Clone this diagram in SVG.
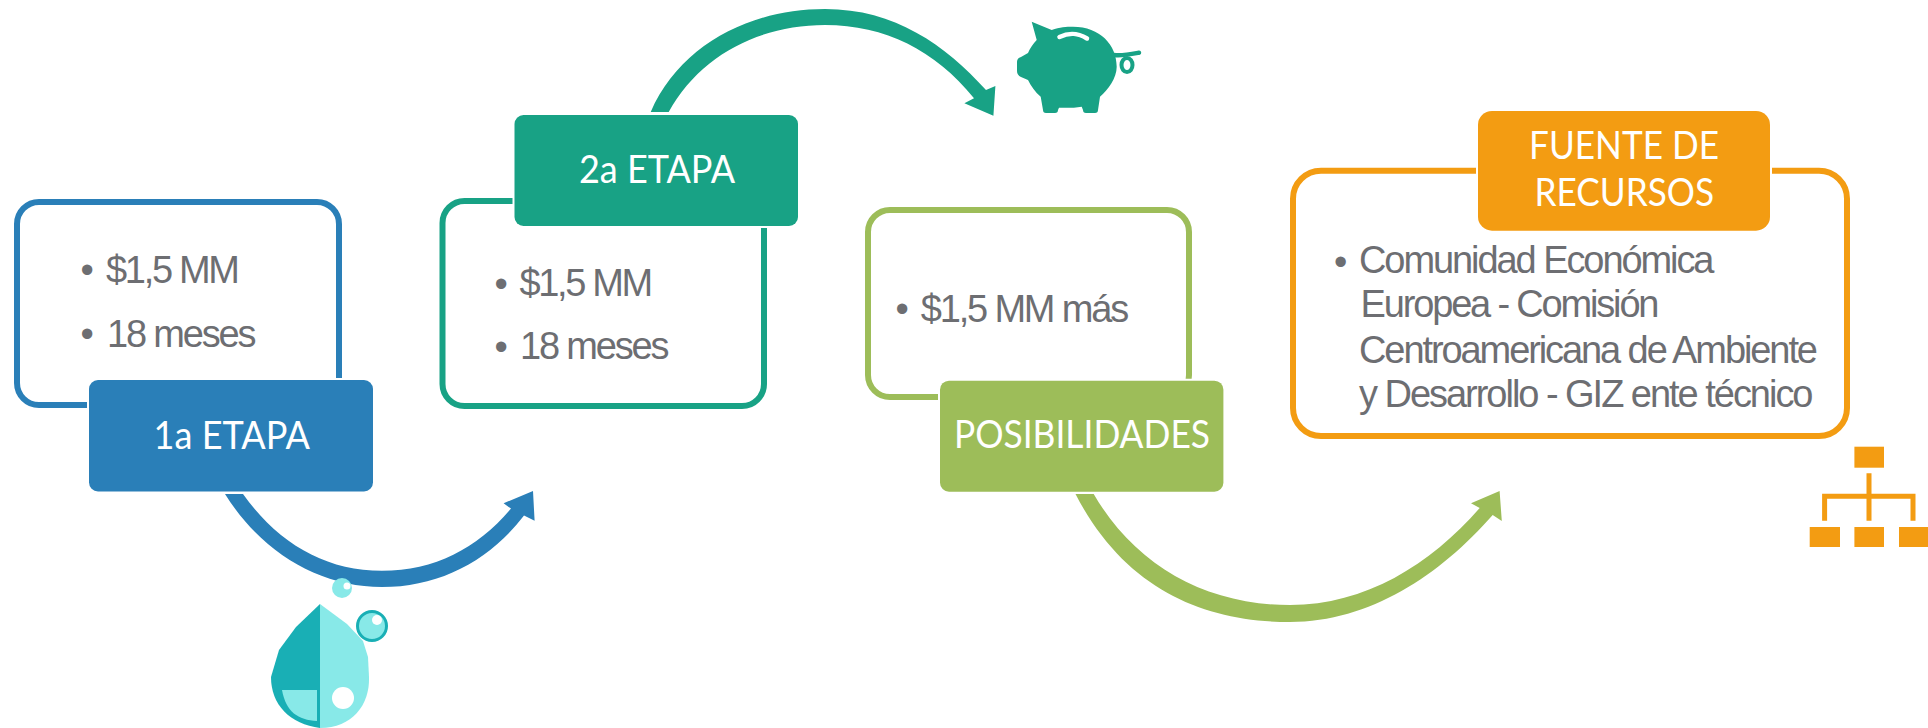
<svg xmlns="http://www.w3.org/2000/svg" width="1928" height="728" viewBox="0 0 1928 728">
<style>
.frame{fill:#fff;stroke-width:6}
.tag{stroke:#fff;stroke-width:4;paint-order:stroke}
.lab{font-family:Lato,"Liberation Sans",sans-serif;font-size:38px;fill:#fff}
.txt{font-family:"Liberation Sans",Arial,sans-serif;font-size:38px;fill:#6d6e72}
.blue{fill:#2a7fb8}.green{fill:#18a285}.lime{fill:#9dbd59}.orange{fill:#f39c12}
.sblue{stroke:#2a7fb8}.sgreen{stroke:#18a285}.slime{stroke:#9dbd59}.sorange{stroke:#f39c12}
.dark{fill:#19afb5}.light{fill:#88e9e8}
</style>
<rect width="1928" height="728" fill="#fff"/>
<g id="connectors">
<path class="blue" d="M225,494C262,553 320,587 382,587C440,587 490,560 524,515.500L534.600,520.800L533,491L503.600,503.300L511,508.600C478,548 435,570.800 382,570.800C325,570.800 278,543 243,494Z"/>
<path class="green" d="M650.700,112C680,45 750,9 825,9C895,9 945,45 986,90L995.400,86L993.400,115.700L964.400,103.300L974,98.300C935,50 885,25 825,25C760,25 700,55 668.700,112Z"/>
<path class="lime" d="M1075.500,494C1125,590 1205,622 1290,622C1370,622 1440,575 1492.700,515L1501.800,521L1499.600,491L1471,503.300L1479.700,508C1430,565 1365,605 1290,605C1205,605 1135,565 1093.700,494Z"/>
</g>
<g id="etapa1">
<rect class="frame sblue" x="17" y="202" width="322" height="203" rx="22"/>
<rect class="tag blue" x="89" y="380" width="284" height="111.500" rx="9"/>
<text class="lab" x="153.600" y="448.500" textLength="156.400" lengthAdjust="spacingAndGlyphs">1a ETAPA</text>
<text class="txt" x="80.400" y="283">•</text>
<text class="txt" x="106" y="283" textLength="134" lengthAdjust="spacing">$1,5 MM</text>
<text class="txt" x="80.400" y="347">•</text>
<text class="txt" x="107" y="347" textLength="149.500" lengthAdjust="spacing">18 meses</text>
</g>
<g id="etapa2">
<rect class="frame sgreen" x="442.500" y="201" width="321.500" height="205" rx="22"/>
<rect class="tag green" x="514.500" y="115" width="283.500" height="111" rx="9"/>
<text class="lab" x="579" y="182.700" textLength="156" lengthAdjust="spacingAndGlyphs">2a ETAPA</text>
<text class="txt" x="494.400" y="297">•</text>
<text class="txt" x="519.400" y="295.700" textLength="133.800" lengthAdjust="spacing">$1,5 MM</text>
<text class="txt" x="494.400" y="360">•</text>
<text class="txt" x="520" y="359" textLength="149.500" lengthAdjust="spacing">18 meses</text>
</g>
<g id="posibilidades">
<rect class="frame slime" x="868" y="210" width="321" height="187" rx="22"/>
<rect class="tag lime" x="940" y="380.700" width="283.400" height="111" rx="9"/>
<text class="lab" x="954" y="447.700" textLength="256" lengthAdjust="spacingAndGlyphs">POSIBILIDADES</text>
<text class="txt" x="895.400" y="322">•</text>
<text class="txt" x="920.700" y="321.700" textLength="208.500" lengthAdjust="spacing">$1,5 MM más</text>
</g>
<g id="fuente">
<rect class="frame sorange" x="1293" y="170.700" width="554" height="265.300" rx="28"/>
<rect class="tag orange" x="1478" y="111" width="292" height="119.700" rx="14"/>
<text class="lab" x="1529" y="158.700" textLength="190" lengthAdjust="spacingAndGlyphs">FUENTE DE</text>
<text class="lab" x="1534.500" y="206" textLength="179.500" lengthAdjust="spacingAndGlyphs">RECURSOS</text>
<text class="txt" x="1334" y="275">•</text>
<text class="txt" x="1359" y="273.300" textLength="355.500" lengthAdjust="spacing">Comunidad Económica</text>
<text class="txt" x="1360.600" y="317.300" textLength="298.900" lengthAdjust="spacing">Europea - Comisión</text>
<text class="txt" x="1359" y="362.700" textLength="459" lengthAdjust="spacing">Centroamericana de Ambiente</text>
<text class="txt" x="1359" y="407.300" textLength="454.500" lengthAdjust="spacing">y Desarrollo - GIZ ente técnico</text>
</g>
<g id="icon-drop">
<path class="dark" d="M320,604L296,627L279,650L271,677C271,705 290,724 320,728Z"/>
<path class="light" d="M320,604L347,624L363,641L368,657L369,677C370,705 352,728 320,728Z"/>
<path class="light" d="M282,690H317V721C298,720 286,712 282,690Z"/>
<circle cx="343" cy="698" r="11" fill="#fff"/>
<circle class="light" cx="342" cy="588" r="10"/>
<circle cx="347" cy="586" r="3.500" fill="#fff"/>
<circle class="light" cx="372" cy="626" r="14.500" stroke="#19afb5" stroke-width="3"/>
<circle cx="377" cy="620" r="5" fill="#fff"/>
</g>
<g id="icon-piggy">
<path class="green" d="M1031.700,21.700L1051.700,30C1060,27 1066,26.700 1073,26.700C1100,26.700 1116.700,45 1116.700,66.700C1116.700,78 1108,90 1100,96.700L1098,110Q1098,113 1095,113H1086Q1083,113 1083,110L1081.700,106.700C1074,108 1066,108 1059,107.700L1058,110Q1058,113 1055,113H1046Q1043,113 1043,110L1040.700,96.700C1035,92 1031,86 1028,80L1021,77Q1017,75 1017,71V62Q1017,58 1021,57L1028,53C1030,48 1033,44 1036.700,40Z"/>
<path d="M1059.500,37C1070,32 1078,33 1087,38.500" fill="none" stroke="#fff" stroke-width="4.500" stroke-linecap="round"/>
<path d="M1114,55C1122,56 1132,54 1139,52.700" fill="none" stroke="#18a285" stroke-width="4.500" stroke-linecap="round"/>
<ellipse cx="1127" cy="65" rx="5.500" ry="7" fill="none" stroke="#18a285" stroke-width="4"/>
</g>
<g id="icon-org">
<rect class="orange" x="1854.400" y="446.700" width="29.600" height="21"/>
<rect class="orange" x="1809.700" y="527" width="30.300" height="20"/>
<rect class="orange" x="1854.400" y="527" width="29.600" height="20"/>
<rect class="orange" x="1899" y="527" width="29" height="20"/>
<path d="M1869,473.300V520.700M1824.600,520.700V496.300H1913V520.700" fill="none" stroke="#f39c12" stroke-width="5"/>
</g>
</svg>
